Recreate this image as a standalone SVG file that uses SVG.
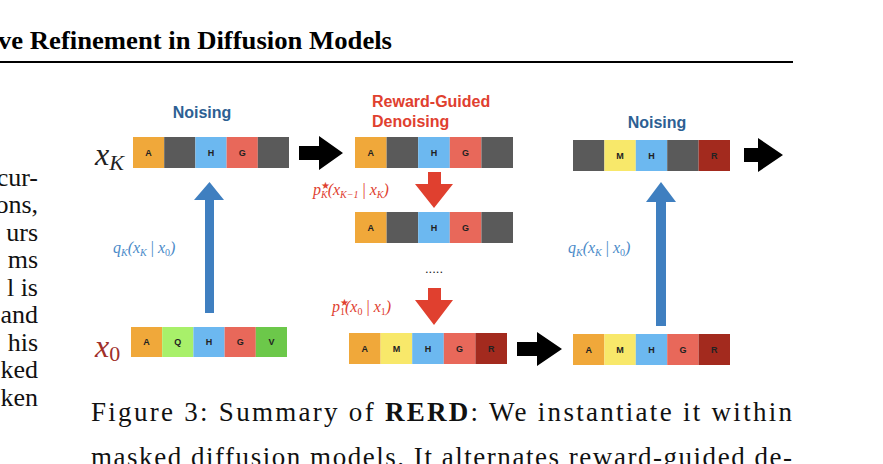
<svg xmlns="http://www.w3.org/2000/svg" width="883" height="464" viewBox="0 0 883 464">
<style>
.t{font-family:"Liberation Sans",Arial,sans-serif;font-weight:bold;font-size:9px;text-anchor:middle;fill:#222}
.o{fill:#f0a83a}.g{fill:#5a5a5a}.b{fill:#6cb8f0}.r{fill:#e8685a}.y{fill:#f8e86a}.d{fill:#a32a1e}.lg{fill:#a8f06a}.dg{fill:#6cc84a}
.serif{font-family:"Liberation Serif","Times New Roman",serif}
.math{font-family:"Liberation Serif","Times New Roman",serif;font-style:italic}
.lbl{font-family:"Liberation Sans",Arial,sans-serif;font-weight:bold;font-size:16px}
</style>
<rect width="883" height="464" fill="#fff"/>
<g id="page">
<text x="-2" y="49" class="serif" font-size="26" font-weight="bold" textLength="394" lengthAdjust="spacingAndGlyphs">ve Refinement in Diffusion Models</text>
<rect x="0" y="61" width="793" height="2" fill="#000"/>
<g class="serif" font-size="26" text-anchor="end" fill="#111">
<text x="38" y="186">cur-</text><text x="38" y="213">ons,</text><text x="38" y="241">urs</text><text x="38" y="268">ms</text><text x="38" y="296">l is</text><text x="38" y="323">and</text><text x="38" y="351">his</text><text x="38" y="378">ked</text><text x="38" y="406">ken</text>
</g>
<text x="91" y="421" class="serif" font-size="27" textLength="701" lengthAdjust="spacing" fill="#111">Figure 3:  Summary of <tspan font-weight="bold">RERD</tspan>: We instantiate it within</text>
<text x="91" y="466" class="serif" font-size="27" textLength="701" lengthAdjust="spacing" fill="#111">masked diffusion models. It alternates reward-guided de-</text>
</g>
<g id="labels">
<text x="202" y="118" class="lbl" fill="#2d5f93" text-anchor="middle">Noising</text>
<text x="372" y="107" class="lbl" fill="#e0402f">Reward-Guided</text>
<text x="372" y="127" class="lbl" fill="#e0402f">Denoising</text>
<text x="657" y="128" class="lbl" fill="#2d5f93" text-anchor="middle">Noising</text>
<text x="95" y="165" class="math" font-size="32" fill="#222">x<tspan font-size="22" dy="5">K</tspan></text>
<text x="95" y="357" class="math" font-size="32" fill="#a0302a">x<tspan font-style="normal" font-size="22" dy="4">0</tspan></text>
<text x="113" y="253" class="math" font-size="16" fill="#4a8ac8">q<tspan font-size="10" dy="3">K</tspan><tspan dy="-3">(x</tspan><tspan font-size="10" dy="3">K</tspan><tspan dy="-3" font-style="normal"> | </tspan>x<tspan font-size="10" dy="3" font-style="normal">0</tspan><tspan dy="-3">)</tspan></text>
<text x="568" y="253" class="math" font-size="16" fill="#4a8ac8">q<tspan font-size="10" dy="3">K</tspan><tspan dy="-3">(x</tspan><tspan font-size="10" dy="3">K</tspan><tspan dy="-3" font-style="normal"> | </tspan>x<tspan font-size="10" dy="3" font-style="normal">0</tspan><tspan dy="-3">)</tspan></text>
<text x="313" y="195" class="math" font-size="16" fill="#e0402f">p<tspan font-size="10" dy="-6" font-style="normal">★</tspan><tspan font-size="10" dx="-9" dy="9">K</tspan><tspan dy="-3">(x</tspan><tspan font-size="10" dy="3">K−1</tspan><tspan dy="-3" font-style="normal"> | </tspan>x<tspan font-size="10" dy="3">K</tspan><tspan dy="-3">)</tspan></text>
<text x="332" y="312" class="math" font-size="16" fill="#e0402f">p<tspan font-size="10" dy="-6" font-style="normal">★</tspan><tspan font-size="10" dx="-9" dy="9" font-style="normal">1</tspan><tspan dy="-3">(x</tspan><tspan font-size="10" dy="3" font-style="normal">0</tspan><tspan dy="-3" font-style="normal"> | </tspan>x<tspan font-size="10" dy="3" font-style="normal">1</tspan><tspan dy="-3">)</tspan></text>
<text x="434" y="273" font-family="Liberation Sans,sans-serif" font-size="13" text-anchor="middle" fill="#222">.....</text>
</g>
<g id="seqXK" transform="translate(133,137)">
<rect class="o" x="0" width="31.2" height="31"/><rect class="g" x="31.2" width="31.2" height="31"/><rect class="b" x="62.4" width="31.2" height="31"/><rect class="r" x="93.6" width="31.2" height="31"/><rect class="g" x="124.8" width="31.2" height="31"/>
<text class="t" x="15.6" y="19">A</text><text class="t" x="78" y="19">H</text><text class="t" x="109.2" y="19">G</text>
</g>
<g id="seqX0" transform="translate(131,327)">
<rect class="o" x="0" width="31.2" height="30"/><rect class="lg" x="31.2" width="31.2" height="30"/><rect class="b" x="62.4" width="31.2" height="30"/><rect class="r" x="93.6" width="31.2" height="30"/><rect class="dg" x="124.8" width="31.2" height="30"/>
<text class="t" x="15.6" y="18">A</text><text class="t" x="46.8" y="18">Q</text><text class="t" x="78" y="18">H</text><text class="t" x="109.2" y="18">G</text><text class="t" x="140.4" y="18">V</text>
</g>
<g id="seqD1" transform="translate(355,137)">
<rect class="o" x="0" width="31.6" height="31"/><rect class="g" x="31.6" width="31.6" height="31"/><rect class="b" x="63.2" width="31.6" height="31"/><rect class="r" x="94.8" width="31.6" height="31"/><rect class="g" x="126.4" width="31.6" height="31"/>
<text class="t" x="15.8" y="19">A</text><text class="t" x="79" y="19">H</text><text class="t" x="110.6" y="19">G</text>
</g>
<g id="seqD2" transform="translate(355,212)">
<rect class="o" x="0" width="31.6" height="31"/><rect class="g" x="31.6" width="31.6" height="31"/><rect class="b" x="63.2" width="31.6" height="31"/><rect class="r" x="94.8" width="31.6" height="31"/><rect class="g" x="126.4" width="31.6" height="31"/>
<text class="t" x="15.8" y="19">A</text><text class="t" x="79" y="19">H</text><text class="t" x="110.6" y="19">G</text>
</g>
<g id="seqD3" transform="translate(349,333)">
<rect class="o" x="0" width="31.6" height="31"/><rect class="y" x="31.6" width="31.6" height="31"/><rect class="b" x="63.2" width="31.6" height="31"/><rect class="r" x="94.8" width="31.6" height="31"/><rect class="d" x="126.4" width="31.6" height="31"/>
<text class="t" x="15.8" y="19">A</text><text class="t" x="47.4" y="19">M</text><text class="t" x="79" y="19">H</text><text class="t" x="110.6" y="19">G</text><text class="t" x="142.2" y="19">R</text>
</g>
<g id="seqR0" transform="translate(573,334)">
<rect class="o" x="0" width="31.4" height="31"/><rect class="y" x="31.4" width="31.4" height="31"/><rect class="b" x="62.8" width="31.4" height="31"/><rect class="r" x="94.2" width="31.4" height="31"/><rect class="d" x="125.6" width="31.4" height="31"/>
<text class="t" x="15.7" y="19">A</text><text class="t" x="47.1" y="19">M</text><text class="t" x="78.5" y="19">H</text><text class="t" x="109.9" y="19">G</text><text class="t" x="141.3" y="19">R</text>
</g>
<g id="seqRK" transform="translate(573,140)">
<rect class="g" x="0" width="31.4" height="31"/><rect class="y" x="31.4" width="31.4" height="31"/><rect class="b" x="62.8" width="31.4" height="31"/><rect class="g" x="94.2" width="31.4" height="31"/><rect class="d" x="125.6" width="31.4" height="31"/>
<text class="t" x="47.1" y="19">M</text><text class="t" x="78.5" y="19">H</text><text class="t" x="141.3" y="19">R</text>
</g>
<g id="connectors">
<polygon fill="#000" points="299,146 319,146 319,136 343,153 319,170 319,160 299,160"/>
<polygon fill="#000" points="744,148 758,148 758,138 783,155 758,172 758,162 744,162"/>
<polygon fill="#000" points="517,342 537,342 537,332 562,349 537,366 537,356 517,356"/>
<polygon fill="#3f7fc0" points="205,313 214,313 214,200 224,200 209.5,182 194,200 205,200"/>
<polygon fill="#3f7fc0" points="656,326 666,326 666,202 676,202 661,182 646,202 656,202"/>
<polygon fill="#e0402f" points="428,172 441,172 441,184 453,184 434,208 415,184 428,184"/>
<polygon fill="#e0402f" points="428,288 441,288 441,300 453,300 434,325 415,300 428,300"/>
</g>
</svg>
